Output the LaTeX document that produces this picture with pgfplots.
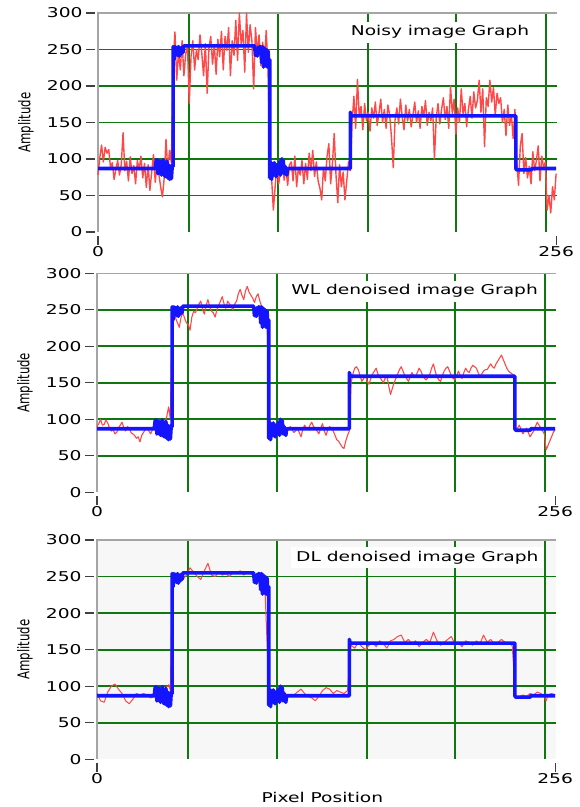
\documentclass[border=0pt]{standalone}
\usepackage{fontspec}
\usepackage{graphicx}
\usepackage{pgfplots}
\usepackage{pgfplotstable}
\pgfplotsset{compat=1.18}

\newfontfamily\lvfamily{DejaVu Sans}[FakeStretch=1.38]
\newfontfamily\lvplain{DejaVu Sans}
\newcommand\lvfont{\lvfamily\fontsize{13.5bp}{16bp}\selectfont}

\definecolor{gridgreen}{RGB}{16,118,16}
\definecolor{sigred}{RGB}{255,72,72}
\definecolor{sigblue}{RGB}{20,20,255}
\definecolor{axisgray}{RGB}{165,165,165}

% clean step signal, same in all three panels
\pgfplotstableread[row sep=\\]{
x y\\
0 87\\ 32 87\\ 32.5 98\\ 33 99\\ 33.5 80\\ 34 82\\ 34.5 97\\ 35 95\\ 35.5 78\\ 36 84\\
36.5 99\\ 37 80\\ 37.5 76\\ 38 90\\ 38.5 97\\ 39 74\\ 39.5 92\\ 40 72\\ 40.5 88\\ 41 73\\
41.5 92\\ 42 90\\ 42 254\\ 42.5 236\\ 43 254\\ 43.5 248\\ 44 253\\ 44.5 242\\ 45 254\\ 45.5 241\\
46 252\\ 46.5 244\\ 47 253\\ 47.5 246\\ 48 255\\ 87.5 255\\ 88 242\\ 88.5 251\\ 89 241\\ 89.5 253\\
90 245\\ 90.5 254\\ 91 253\\ 91.5 232\\ 92 254\\ 92.5 226\\ 93 252\\ 93.5 230\\ 94 250\\ 94.5 226\\
95 248\\ 95.5 229\\ 96 236\\ 96 74\\ 96.5 96\\ 97 72\\ 97.5 90\\ 98 78\\ 98.5 95\\ 99 82\\
99.5 76\\ 100 92\\ 100.5 86\\ 101 80\\ 101.5 96\\ 102 78\\ 102.5 100\\ 103 82\\ 103.5 98\\ 104 80\\
104.5 90\\ 105 84\\ 105.5 78\\ 106 87\\ 141 87\\ 141 164\\ 141.5 159\\ 233.5 159\\ 233.5 87\\ 234 85\\
242 85\\ 242.5 87\\ 256 87\\
}\bluetab

\tikzset{
  lvtitle/.style={fill=white, font=\lvfont, inner xsep=5bp, inner ysep=4bp,
    text height=10bp, text depth=3bp},
}
\pgfplotsset{
  lvpanel/.style={
    scale only axis, width=459bp, height=219bp, anchor=north west,
    xmin=0, xmax=256.5, ymin=0, ymax=300,
    axis line style={draw=none},
    clip=false,
    tick pos=left, tick align=outside, major tick length=9bp,
    xtick={0,256}, ytick={0,50,...,300},
    extra x ticks={51,100.5,151,200,250.5}, extra x tick labels={},
    extra y ticks={50,100,150,200,250}, extra y tick labels={},
    extra tick style={grid=major, major tick length=0pt},
    major grid style={draw=gridgreen, line width=1.9bp},
    ytick style={draw=black!75, line width=1.2bp, xshift=-3bp},
    xtick style={draw=black!75, line width=1.2bp, yshift=-4bp},
    tick label style={font=\lvfont, /pgf/number format/assume math mode=true},
    yticklabel style={xshift=-3bp},
    xticklabel style={yshift=-1.5bp},
    ylabel={\scalebox{1}[1.38]{Amplitude}},
    every axis y label/.style={at={(axis description cs:-0.157,0.5)}, rotate=90,
      anchor=center, font=\lvplain\fontsize{11.7bp}{14bp}\selectfont},
  },
}

\begin{document}
\begin{tikzpicture}
\useasboundingbox (0,0) rectangle (580bp,807bp);

% ---- noisy ----
\begin{axis}[lvpanel, at={(98bp,794bp)}]
\draw[axisgray, line width=1.5bp] (rel axis cs:0,0) -- (rel axis cs:0,1) -- (rel axis cs:1,1);
\addplot[sigred, line width=1.4bp, line join=round] coordinates {
(0,78)(1,102)(2,119)(3,96)(4,116)(5,108)(6,113)(7,88)(8,95)(9,72)(10,86)(11,98)(12,78)(13,92)
(14,136)(15,84)(16,97)(17,70)(18,103)(19,80)(20,91)(21,66)(22,98)(23,85)(24,104)(25,74)(26,94)
(27,61)(28,92)(29,57)(30,82)(31,106)(32,68)(33,96)(34,80)(35,62)(36,48)(37,74)(38,127)(39,84)
(40,112)(41,95)
(42,232)(43,274)(44,208)(45,248)(46,222)(47,262)(48,214)(49,244)(50,255)(51,176)(52,241)(53,262)
(54,222)(55,250)(56,236)(57,270)(58,245)(59,214)(60,258)(61,190)(62,252)(63,268)(64,230)(65,257)
(66,216)(67,264)(68,240)(69,275)(70,222)(71,268)(72,249)(73,280)(74,214)(75,262)(76,242)(77,290)
(78,235)(79,300)(80,258)(81,276)(82,219)(83,300)(84,246)(85,284)(86,262)(87,196)(88,280)(89,245)
(90,270)(91,228)(92,260)(93,232)(94,276)(95,225)
(96,108)(97,74)(98,30)(99,62)(100,92)(101,66)(102,84)(103,102)(104,71)(105,88)(106,64)(107,92)
(108,96)(109,70)(110,104)(111,62)(112,88)(113,78)(114,98)(115,66)(116,94)(117,72)(118,108)
(119,84)(120,112)(121,76)(122,96)(123,70)(124,60)(125,44)(126,88)(127,70)(128,104)(129,121)
(130,66)(131,94)(132,135)(133,78)(134,40)(135,92)(136,62)(137,82)(138,44)(139,70)(140,96)(141,84)
(142,150)(143,186)(144,142)(145,209)(146,158)(147,172)(148,140)(149,176)(150,152)(151,164)
(152,138)(153,170)(154,156)(155,178)(156,146)(157,162)(158,182)(159,150)(160,168)(161,142)
(162,174)(163,160)(164,130)(165,88)(166,154)(167,170)(168,148)(169,182)(170,158)(171,140)
(172,174)(173,152)(174,168)(175,144)(176,160)(177,178)(178,150)(179,166)(180,142)(181,172)
(182,158)(183,180)(184,146)(185,164)(186,152)(187,170)(188,100)(189,156)(190,176)(191,148)
(192,168)(193,184)(194,154)(195,172)(196,142)(197,200)(198,162)(199,182)(200,134)(201,170)
(202,150)(203,196)(204,162)(205,176)(206,144)(207,168)(208,186)(209,156)(210,192)(211,170)
(212,180)(213,208)(214,164)(215,196)(216,117)(217,184)(218,172)(219,208)(220,178)(221,198)
(222,160)(223,190)(224,176)(225,184)(226,150)(227,168)(228,132)(229,174)(230,146)(231,160)
(232,128)(233,168)
(234,96)(235,64)(236,118)(237,135)(238,80)(239,102)(240,74)(241,90)(242,66)(243,110)(244,84)
(245,98)(246,118)(247,70)(248,104)(249,88)(250,96)(251,30)(252,50)(253,26)(254,62)(255,44)(256,80)
};
\addplot[sigblue, line width=3.6bp, line join=round] table {\bluetab};
\node[lvtitle] at (rel axis cs:0.745,0.913) {Noisy image Graph};
\end{axis}

% ---- WL denoised ----
\begin{axis}[lvpanel, at={(97bp,533.7bp)}]
\draw[axisgray, line width=1.5bp] (rel axis cs:0,0) -- (rel axis cs:0,1) -- (rel axis cs:1,1);
\addplot[sigred, line width=1.1bp, line join=round] coordinates {
(0,90)(1,94)(2,100)(3,92)(4,93)(5,99)(6,95)(7,88)(8,84)(9,86)(10,80)(11,82)(12,88)(13,92)(14,96)
(15,88)(16,84)(17,90)(18,88)(19,82)(20,80)(21,78)(22,74)(23,76)(24,69)(25,78)(26,82)(27,86)
(28,88)(29,84)(30,80)(31,86)(32,92)(33,88)(34,84)(35,78)(36,76)(37,88)(38,96)(39,104)(40,117)(41,100)
(42,250)(43,244)(44,238)(45,232)(46,226)(47,240)(48,246)(49,238)(50,232)(51,230)(52,222)(53,240)
(54,248)(55,246)(56,252)(57,258)(58,262)(59,250)(60,244)(61,256)(62,264)(63,254)(64,248)(65,246)
(66,240)(67,250)(68,256)(69,262)(70,268)(71,258)(72,252)(73,262)(74,258)(75,254)(76,250)(77,258)
(78,262)(79,272)(80,278)(81,270)(82,264)(83,276)(84,282)(85,274)(86,270)(87,266)(88,260)(89,268)
(90,272)(91,262)(92,254)(93,250)(94,244)(95,238)
(96,110)(97,92)(98,80)(99,86)(100,92)(101,84)(102,78)(103,90)(104,96)(105,88)(106,84)(107,86)
(108,90)(109,86)(110,82)(111,84)(112,88)(113,82)(114,76)(115,86)(116,92)(117,88)(118,86)(119,92)
(120,96)(121,90)(122,88)(123,84)(124,80)(125,88)(126,94)(127,84)(128,78)(129,86)(130,90)(131,88)
(132,84)(133,78)(134,72)(135,70)(136,66)(137,62)(138,60)(139,70)(140,78)(141,84)
(142,150)(143,162)(144,170)(145,172)(146,168)(147,160)(148,152)(149,156)(150,160)(151,152)
(152,148)(153,156)(154,162)(155,166)(156,170)(157,162)(158,158)(159,154)(160,150)(161,156)
(162,160)(163,146)(164,134)(165,142)(166,150)(167,156)(168,162)(169,168)(170,172)(171,166)
(172,160)(173,156)(174,152)(175,158)(176,164)(177,160)(178,158)(179,164)(180,170)(181,166)
(182,160)(183,156)(184,154)(185,158)(186,162)(187,170)(188,176)(189,166)(190,158)(191,154)
(192,152)(193,160)(194,166)(195,170)(196,172)(197,166)(198,160)(199,156)(200,154)(201,160)
(202,166)(203,160)(204,156)(205,164)(206,170)(207,166)(208,164)(209,170)(210,174)(211,172)
(212,170)(213,164)(214,158)(215,162)(216,166)(217,168)(218,168)(219,172)(220,176)(221,172)
(222,170)(223,176)(224,180)(225,184)(226,188)(227,182)(228,176)(229,170)(230,166)(231,164)
(232,162)(233,160)
(234,84)(235,88)(236,92)(237,86)(238,80)(239,84)(240,88)(241,82)(242,76)(243,80)(244,84)(245,90)
(246,96)(247,92)(248,88)(249,84)(250,80)(251,58)(252,64)(253,70)(254,76)(255,82)(256,86)
};
\addplot[sigblue, line width=3.6bp, line join=round] table {\bluetab};
\node[lvtitle] at (rel axis cs:0.692,0.917) {WL denoised image Graph};
\end{axis}

% ---- DL denoised ----
\begin{axis}[lvpanel, at={(97bp,267bp)}, height=219.3bp,
  axis background/.style={fill=black!3},
  xlabel={Pixel Position},
  every axis x label/.style={at={(axis description cs:0.491,-0.172)}, anchor=center, font=\lvfont}]
\draw[axisgray, line width=1.5bp] (rel axis cs:0,0) -- (rel axis cs:0,1) -- (rel axis cs:1,1);
\addplot[sigred, line width=1bp, line join=round] coordinates {
(0,90)(2,80)(4,78)(6,92)(8,100)(10,103)(12,96)(14,90)(16,80)(18,76)(20,82)(22,90)(24,88)(26,90)
(28,88)(30,84)(32,86)(34,84)(36,88)(38,96)(40,102)(41,94)
(42,248)(44,250)(46,244)(48,246)(50,252)(52,262)(54,256)(56,250)(58,246)(60,258)(62,268)(64,252)
(66,250)(68,256)(70,252)(72,254)(74,250)(76,256)(78,254)(80,258)(82,252)(84,256)(86,254)(88,250)
(90,246)(92,236)(94,224)
(96,100)(98,84)(100,90)(102,86)(104,94)(106,88)
(108,86)(110,88)(112,92)(114,96)(116,90)(118,86)(120,84)(122,80)(124,86)(126,94)(128,98)(130,96)
(132,90)(134,94)(136,92)(138,90)(140,94)
(142,156)(144,152)(146,160)(148,154)(150,150)(152,156)(154,160)(156,154)(158,162)(160,158)
(162,152)(164,162)(166,164)(168,168)(170,170)(172,160)(174,164)(176,158)(178,162)(180,154)
(182,160)(184,164)(186,160)(188,174)(190,162)(192,156)(194,160)(196,164)(198,168)(200,158)
(202,160)(204,154)(206,162)(208,160)(210,156)(212,162)(214,158)(216,170)(218,160)(220,164)
(222,158)(224,160)(226,164)(228,160)(230,158)(232,156)
(234,84)(236,86)(238,88)(240,86)(242,90)(244,88)(246,92)(248,90)(250,86)(251,80)(252,88)(254,90)(256,88)
};
\addplot[sigblue, line width=3.6bp, line join=round] table {\bluetab};
\node[lvtitle] at (rel axis cs:0.698,0.92) {DL denoised image Graph};
\end{axis}
\end{tikzpicture}
\end{document}
